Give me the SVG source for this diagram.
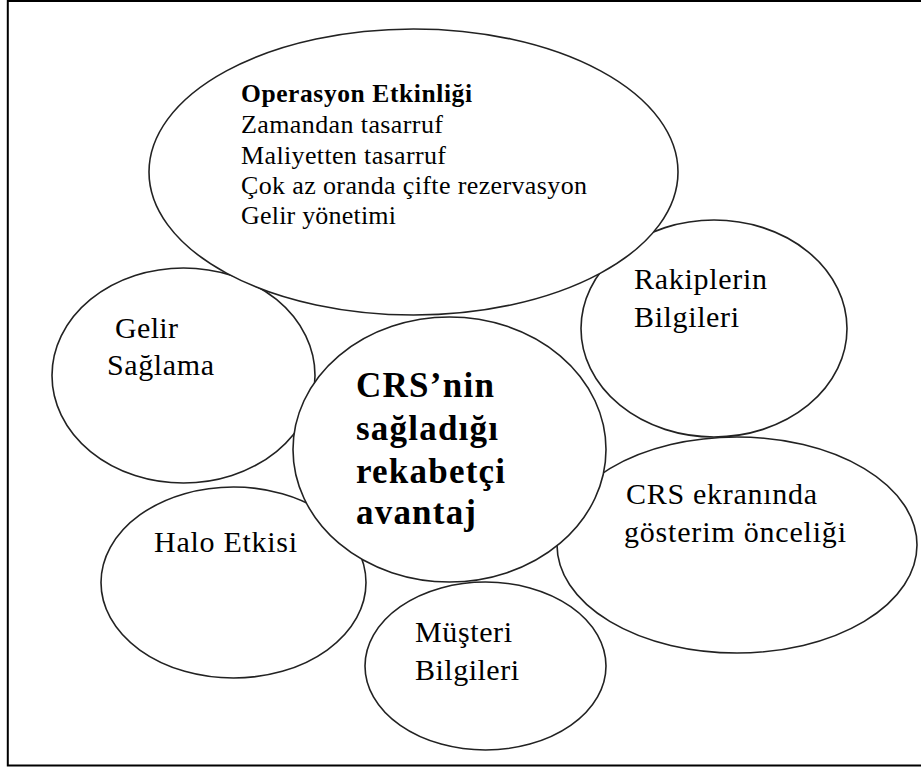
<svg xmlns="http://www.w3.org/2000/svg" width="921" height="767" viewBox="0 0 921 767">
  <style>
    .bubble { fill: #ffffff; stroke: #222222; stroke-width: 1.6; }
    .lbl { font-family: "Liberation Serif", "Times New Roman", serif; font-size: 30px; fill: #000000; }
    .item { font-family: "Liberation Serif", "Times New Roman", serif; font-size: 26px; fill: #000000; }
    .head { font-weight: bold; font-size: 25.5px; }
    .core { font-family: "Liberation Serif", "Times New Roman", serif; font-size: 35px; font-weight: bold; fill: #000000; }
  </style>

  <rect x="0" y="0" width="921" height="767" fill="#ffffff"/>
  <!-- frame (right edge runs past the page) -->
  <rect x="7.8" y="1" width="930" height="764.5" fill="none" stroke="#000000" stroke-width="2"/>

  <g id="rakiplerin-bilgileri">
    <ellipse class="bubble" cx="714" cy="328.5" rx="133" ry="108.5"/>
    <text class="lbl" x="634" y="289" textLength="133" lengthAdjust="spacing">Rakiplerin</text>
    <text class="lbl" x="634" y="327" textLength="105" lengthAdjust="spacing">Bilgileri</text>
  </g>

  <g id="gelir-saglama">
    <ellipse class="bubble" cx="183.5" cy="375.5" rx="131.5" ry="107.5"/>
    <text class="lbl" x="115" y="338" textLength="63" lengthAdjust="spacing">Gelir</text>
    <text class="lbl" x="107" y="375" textLength="107" lengthAdjust="spacing">Sağlama</text>
  </g>

  <g id="operasyon-etkinligi">
    <ellipse class="bubble" cx="413.5" cy="172" rx="264.5" ry="143"/>
    <text class="item head" x="241" y="102" textLength="231" lengthAdjust="spacing">Operasyon Etkinliği</text>
    <text class="item" x="241" y="133" textLength="202" lengthAdjust="spacing">Zamandan tasarruf</text>
    <text class="item" x="241" y="164" textLength="205" lengthAdjust="spacing">Maliyetten tasarruf</text>
    <text class="item" x="241" y="194" textLength="346" lengthAdjust="spacing">Çok az oranda çifte rezervasyon</text>
    <text class="item" x="241" y="224" textLength="155" lengthAdjust="spacing">Gelir yönetimi</text>
  </g>

  <g id="halo-etkisi">
    <ellipse class="bubble" cx="233.5" cy="582.5" rx="132.5" ry="95.5"/>
    <text class="lbl" x="154" y="552" textLength="143" lengthAdjust="spacing">Halo Etkisi</text>
  </g>

  <g id="crs-ekraninda">
    <ellipse class="bubble" cx="737" cy="545" rx="180" ry="108"/>
    <text class="lbl" x="626" y="504" textLength="191" lengthAdjust="spacing">CRS ekranında</text>
    <text class="lbl" x="624" y="542" textLength="222" lengthAdjust="spacing">gösterim önceliği</text>
  </g>

  <g id="musteri-bilgileri">
    <ellipse class="bubble" cx="485.5" cy="666" rx="120.5" ry="84"/>
    <text class="lbl" x="415" y="642" textLength="97" lengthAdjust="spacing">Müşteri</text>
    <text class="lbl" x="415" y="680" textLength="104" lengthAdjust="spacing">Bilgileri</text>
  </g>

  <g id="rekabetci-avantaj">
    <ellipse class="bubble" cx="449.5" cy="449.5" rx="156.5" ry="132.5"/>
    <text class="core" x="356" y="397" textLength="138" lengthAdjust="spacing">CRS’nin</text>
    <text class="core" x="356" y="440" textLength="142" lengthAdjust="spacing">sağladığı</text>
    <text class="core" x="356" y="483" textLength="149" lengthAdjust="spacing">rekabetçi</text>
    <text class="core" x="356" y="524" textLength="120" lengthAdjust="spacing">avantaj</text>
  </g>
</svg>
